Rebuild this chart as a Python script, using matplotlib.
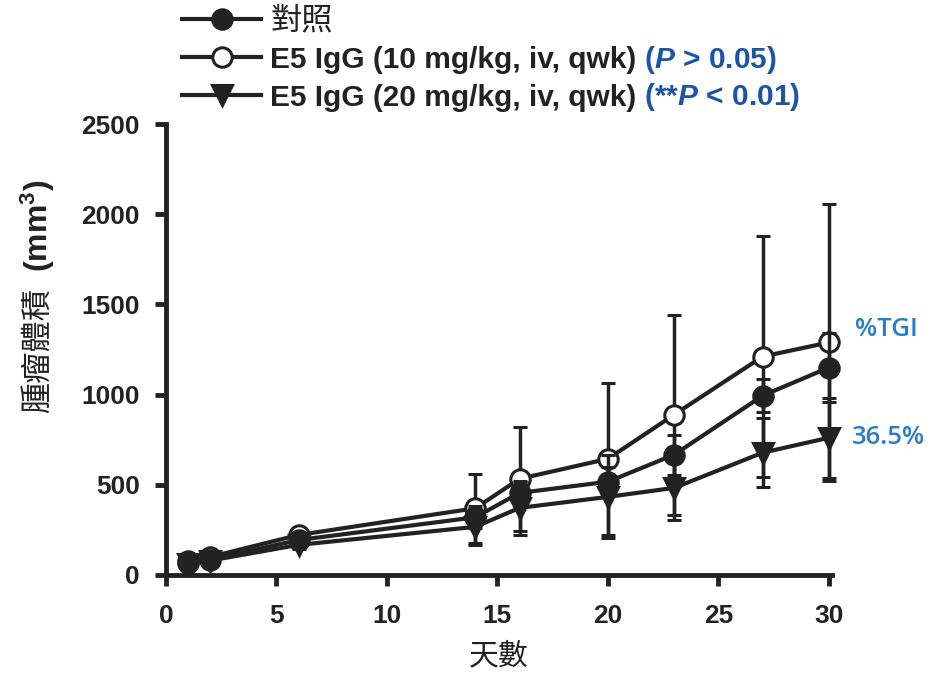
import matplotlib
matplotlib.use('Agg')
import matplotlib.pyplot as plt
from matplotlib.lines import Line2D
import numpy as np

### Fonts
plt.rcParams['font.family'] = ['Liberation Sans', 'Noto Sans CJK TC', 'DejaVu Sans']
plt.rcParams['mathtext.fontset'] = 'custom'
plt.rcParams['mathtext.rm'] = 'Liberation Sans:bold'
plt.rcParams['mathtext.bf'] = 'Liberation Sans:bold'
plt.rcParams['mathtext.it'] = 'Liberation Sans:bold:italic'

### Data
days = [1, 2, 6, 14, 16, 20, 23, 27, 30]

ctrl_mean = [65, 85, 194, 320, 455, 517, 667, 994, 1150]
ctrl_sd = [10, 12, 25, 60, 60, 80, 110, 90, 190]

ig10_mean = [80, 100, 222, 370, 533, 644, 889, 1211, 1289]
ig10_sd = [12, 15, 30, 190, 289, 423, 555, 667, 767]

ig20_mean = [60, 80, 167, 267, 372, 433, 483, 678, 761]
ig20_sd = [10, 12, 25, 100, 150, 230, 177, 190, 222]

labels = ['對照', 'E5 IgG (10 mg/kg, iv, qwk)', 'E5 IgG (20 mg/kg, iv, qwk)']
pvals = ['($P$ > 0.05)', '(**$P$ < 0.01)']

x_ticks = [0, 5, 10, 15, 20, 25, 30]
y_ticks = [0, 500, 1000, 1500, 2000, 2500]

ink = '#222222'
blue_dark = '#1d55a5'
blue_light = '#2a7ec6'

W, H = 935, 675
fig = plt.figure(figsize=(W / 100, H / 100), dpi=100)
# spines: left at x=166 px, bottom at y=575 px, top of y axis at y=124 px
ax = fig.add_axes([166 / W, 1 - 575 / H, (832 - 166) / W, (575 - 124) / H])

lw = 3.0
ms = 14
common = dict(color=ink, linewidth=lw, markersize=ms, markeredgewidth=2.2,
              elinewidth=2.5, capsize=4.7, capthick=3)

# draw order: open, filled, triangle (filled sits over open)
ax.errorbar(days, ig10_mean, yerr=ig10_sd, marker='o', markerfacecolor='white',
            markeredgecolor=ink, zorder=3, clip_on=False, **common)
ax.errorbar(days, ctrl_mean, yerr=ctrl_sd, marker='o', markerfacecolor=ink,
            markeredgecolor=ink, zorder=4, clip_on=False, **common)
ax.errorbar(days, ig20_mean, yerr=ig20_sd, marker='v', markerfacecolor=ink,
            markeredgecolor=ink, zorder=5, clip_on=False, **common)

ax.set_xlim(0, 30.14)
ax.set_ylim(0, 2500)
ax.set_xticks(x_ticks)
ax.set_yticks(y_ticks)
for s in ['top', 'right']:
    ax.spines[s].set_visible(False)
for s in ['left', 'bottom']:
    ax.spines[s].set_linewidth(3.5)
    ax.spines[s].set_color(ink)
    ax.spines[s].set_zorder(6)
ax.tick_params(length=8, width=3.5, color=ink, labelsize=19, pad=11)
ax.tick_params(axis='x', pad=13)
for t in ax.get_xticklabels() + ax.get_yticklabels():
    t.set_fontweight('bold')
    t.set_color(ink)

# axis labels
ax.set_xlabel('天數', fontsize=21.5, family=['Noto Sans CJK TC'], color=ink, labelpad=9)
fig.text(0.040, 0.481, '腫瘤體積', rotation=90, ha='center', va='center', fontsize=22.5,
         family=['Noto Sans CJK TC'], color=ink)
fig.text(0.040, 0.665, '(mm$^\\mathbf{3}$)', rotation=90, ha='center', va='center',
         fontsize=23, fontweight='bold', color=ink)

# TGI notes
fig.text(855 / W, 1 - 330 / H, '%TGI', fontsize=18.5, color=blue_light,
         family=['Open Sans'], fontweight='semibold', va='center')
fig.text(852 / W, 1 - 438 / H, '36.5%', fontsize=18.5, color=blue_light,
         family=['Open Sans'], fontweight='semibold', va='center')

# legend (plain line + marker handles, no error bars)
hkw = dict(color=ink, linewidth=lw, markersize=ms, markeredgewidth=2.2, markeredgecolor=ink)
handles = [Line2D([], [], marker='o', markerfacecolor=ink, **hkw),
           Line2D([], [], marker='o', markerfacecolor='white', **hkw),
           Line2D([], [], marker='v', markerfacecolor=ink, **hkw)]
leg = fig.legend(handles, labels, loc='upper left', bbox_to_anchor=(182 / W, 1 - 4 / H),
                 frameon=False, fontsize=21.5, handlelength=2.65, handletextpad=0.3,
                 labelspacing=0.33, borderaxespad=0, borderpad=0)
for t in leg.get_texts():
    t.set_fontweight('bold')
    t.set_color(ink)
leg.get_texts()[0].set_fontweight('normal')
leg.get_texts()[0].set_family(['Noto Sans CJK TC'])
leg.get_texts()[0].set_fontsize(22.5)

# blue p-values appended after the legend labels
fig.canvas.draw()
inv = fig.transFigure.inverted()
for t, p in zip(leg.get_texts()[1:], pvals):
    bb = t.get_window_extent()
    base = bb.y0 + 0.21 * 21.5 * 100 / 72
    fig.text(*inv.transform((bb.x1, base)), ' ' + p, fontsize=21.5, fontweight='bold',
             color=blue_dark, ha='left', va='baseline')

fig.savefig('out.png', dpi=100)
